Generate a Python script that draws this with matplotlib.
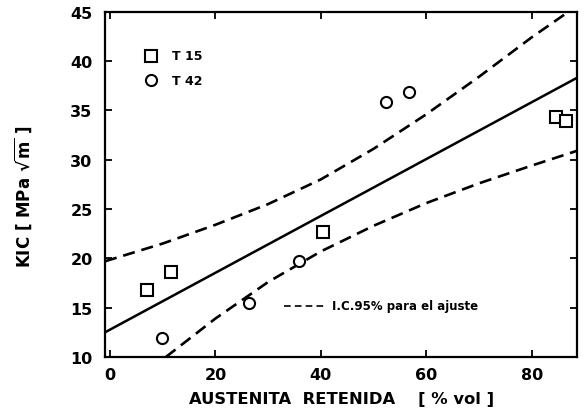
import matplotlib
matplotlib.use("Agg")
import matplotlib.pyplot as plt

# Measured fracture toughness vs. retained austenite
t15_x = [7.1, 11.6, 40.4, 84.6, 86.5]
t15_y = [16.8, 18.6, 22.7, 34.3, 33.9]
t42_x = [9.9, 26.4, 35.9, 52.3, 56.8]
t42_y = [11.9, 15.5, 19.7, 35.8, 36.9]

# Linear fit and its 95% confidence band
fit_x = [-0.95, 88.6]
fit_y = [12.5, 38.3]
upper_x = [-0.95, 10, 20, 30, 40, 50, 60, 70, 80, 87.0]
upper_y = [19.7, 21.5, 23.4, 25.5, 28.0, 31.1, 34.6, 38.4, 42.4, 45.0]
lower_x = [10.6, 20, 30, 40, 50, 60, 70, 80, 88.6]
lower_y = [10.0, 13.9, 17.6, 20.7, 23.3, 25.6, 27.6, 29.4, 30.9]

x_ticks = [0, 20, 40, 60, 80]
y_ticks = [10, 15, 20, 25, 30, 35, 40, 45]

plt.rcParams['font.family'] = ['DejaVu Sans']
plt.rcParams['font.weight'] = 'bold'
plt.rcParams['mathtext.default'] = 'bf'

fig = plt.figure(figsize=(5.88, 4.14), dpi=100)
ax = fig.add_axes([105 / 588, 1 - 358 / 414, 472 / 588, 345.3 / 414])

ax.set_xlim(-0.95, 88.6)
ax.set_ylim(10, 45)

dash = (0, (4.6, 2.6))
ax.plot(fit_x, fit_y, color='black', lw=1.8, solid_capstyle='butt')
ax.plot(upper_x, upper_y, color='black', lw=1.9, linestyle=dash)
ax.plot(lower_x, lower_y, color='black', lw=1.9, linestyle=dash)

mk = dict(linestyle='none', markersize=8, markerfacecolor='white',
          markeredgecolor='black', markeredgewidth=1.5)
ax.plot(t15_x, t15_y, marker='s', **mk)
ax.plot(t42_x, t42_y, marker='o', **mk)

# Key for the marker series
ax.plot([0.0968], [0.8726], transform=ax.transAxes, marker='s', clip_on=False, **mk)
ax.plot([0.0968], [0.802], transform=ax.transAxes, marker='o', clip_on=False, **mk)
ax.text(0.1413, 0.8726, "T 15", transform=ax.transAxes, fontsize=9,
        fontweight='bold', va='center', ha='left')
ax.text(0.1413, 0.802, "T 42", transform=ax.transAxes, fontsize=9,
        fontweight='bold', va='center', ha='left')

# Key for the confidence band
ax.plot([0.380, 0.471], [0.1486, 0.1486], transform=ax.transAxes,
        color='black', lw=1.2, linestyle=(0, (4, 2.5)))
ax.text(0.480, 0.1486, "I.C.95% para el ajuste", transform=ax.transAxes,
        fontsize=8.5, fontweight='bold', va='center', ha='left')

ax.set_xticks(x_ticks)
ax.set_yticks(y_ticks)
ax.set_xticklabels([str(v) for v in x_ticks], fontsize=11.5, fontweight='bold')
ax.set_yticklabels([str(v) for v in y_ticks], fontsize=11.5, fontweight='bold')
ax.tick_params(direction='in', length=5, width=1.3, top=True, right=True,
               labeltop=False, labelright=False)
ax.tick_params(axis='x', pad=7)
ax.tick_params(axis='y', pad=9)
for s in ax.spines.values():
    s.set_linewidth(1.6)

fig.text((185 + 498) / 2 / 588, 1 - 400 / 414, "AUSTENITA  RETENIDA    [ % vol ]",
         fontsize=11.8, fontweight='bold', ha='center', va='center')
fig.text(23 / 588, 1 - 197 / 414, r"KIC [ MPa $\sqrt{m}$ ]", rotation=90,
         fontsize=12, fontweight='bold', ha='center', va='center')

fig.savefig("out.png", dpi=100)
